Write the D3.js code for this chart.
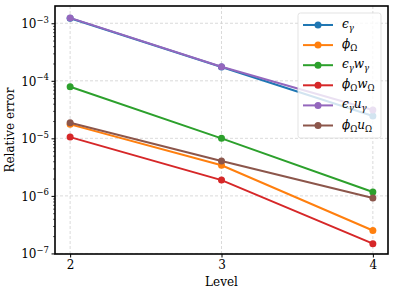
<!DOCTYPE html>
<html>
<head>
<meta charset="utf-8">
<script src="https://cdn.jsdelivr.net/npm/d3@7"></script>
<style>
  body { margin: 0; background: #fff; }
  .grid line { stroke: #d0d0d0; stroke-dasharray: 3,2; stroke-width: 0.8; }
</style>
</head>
<body>
<div id="chart"></div>
<script>
const levels = [2, 3, 4];
const seriesNames = ['eg', 'phiO', 'egwg', 'phiOwO', 'egug', 'phiOuO'];
const seriesColors = ['#1f77b4', '#ff7f0e', '#2ca02c', '#d62728', '#9467bd', '#8c564b'];
// legend label pieces: [text, italic?, subscript?]
const seriesLabels = [
  [['ϵ', 1, 0], ['γ', 1, 1]],
  [['ϕ', 1, 0], ['Ω', 0, 1]],
  [['ϵ', 1, 0], ['γ', 1, 1], ['w', 1, 0], ['γ', 1, 1]],
  [['ϕ', 1, 0], ['Ω', 0, 1], ['w', 1, 0], ['Ω', 0, 1]],
  [['ϵ', 1, 0], ['γ', 1, 1], ['u', 1, 0], ['γ', 1, 1]],
  [['ϕ', 1, 0], ['Ω', 0, 1], ['u', 1, 0], ['Ω', 0, 1]]
];
const eg = [1.22e-3, 1.74e-4, 2.45e-5];
const phiO = [1.75e-5, 3.4e-6, 2.5e-7];
const egwg = [7.9e-5, 1.0e-5, 1.17e-6];
const phiOwO = [1.05e-5, 1.88e-6, 1.48e-7];
const egug = [1.24e-3, 1.76e-4, 3.1e-5];
const phiOuO = [1.86e-5, 4.05e-6, 9.2e-7];
const seriesValues = [eg, phiO, egwg, phiOwO, egug, phiOuO];
const yTickExp = [-7, -6, -5, -4, -3];

const W = 394, H = 296;
const margin = { top: 6, right: 6, bottom: 42, left: 55 };
const width = W - margin.left - margin.right;
const height = H - margin.top - margin.bottom;
const FONT = 'DejaVu Serif';

const svg = d3.select('#chart').append('svg')
  .attr('width', W).attr('height', H)
  .attr('font-family', FONT);
const g = svg.append('g')
  .attr('transform', 'translate(' + margin.left + ',' + margin.top + ')');

const xScale = d3.scaleLinear().domain([1.9, 4.1]).range([0, width]);
const yScale = d3.scaleLog().domain([Math.pow(10, -7.01), Math.pow(10, -2.70)]).range([height, 0]);

// grid
g.append('g').attr('class', 'grid')
  .selectAll('line').data(levels).enter().append('line')
  .attr('x1', d => xScale(d)).attr('x2', d => xScale(d))
  .attr('y1', 0).attr('y2', height);
g.append('g').attr('class', 'grid')
  .selectAll('line').data(yTickExp).enter().append('line')
  .attr('x1', 0).attr('x2', width)
  .attr('y1', d => yScale(Math.pow(10, d))).attr('y2', d => yScale(Math.pow(10, d)));

// axes
const xAxis = g.append('g')
  .attr('transform', 'translate(0,' + height + ')')
  .call(d3.axisBottom(xScale).tickValues(levels).tickSize(3.5).tickPadding(3).tickFormat(d3.format('d')));
xAxis.attr('font-family', FONT).attr('font-size', 12);
xAxis.select('.domain').remove();
xAxis.selectAll('text').attr('fill', '#000');

const minor = [];
for (let e = -8; e <= -3; e++) for (let k = 2; k <= 9; k++) {
  const v = k * Math.pow(10, e);
  if (v >= yScale.domain()[0] && v <= yScale.domain()[1]) minor.push(v);
}
const yMinor = g.append('g')
  .call(d3.axisLeft(yScale).tickValues(minor).tickSize(2).tickFormat(''));
yMinor.select('.domain').remove();
yMinor.selectAll('line').attr('stroke-width', 0.6);

const yAxis = g.append('g')
  .call(d3.axisLeft(yScale).tickValues(yTickExp.map(e => Math.pow(10, e))).tickSize(3.5).tickPadding(3).tickFormat(''));
yAxis.attr('font-family', FONT).attr('font-size', 12);
yAxis.select('.domain').remove();
yAxis.selectAll('.tick').each(function (d) {
  const t = d3.select(this).append('text')
    .attr('x', -6).attr('dy', '0.36em').attr('text-anchor', 'end')
    .attr('fill', '#000');
  t.append('tspan').text('10');
  t.append('tspan').attr('font-size', 8.5).attr('dy', '-0.65em').text('−' + (-Math.log10(d)).toFixed(0));
});

// lines
const line = d3.line().x((d, i) => xScale(levels[i])).y(d => yScale(d));
seriesValues.forEach((vals, s) => {
  const sg = g.append('g');
  sg.append('path')
    .attr('d', line(vals))
    .attr('fill', 'none')
    .attr('stroke', seriesColors[s])
    .attr('stroke-width', 2);
  sg.selectAll('circle').data(vals).enter().append('circle')
    .attr('cx', (d, i) => xScale(levels[i]))
    .attr('cy', d => yScale(d))
    .attr('r', 3.5)
    .attr('fill', seriesColors[s]);
});

// frame
g.append('rect').attr('x', 0).attr('y', 0).attr('width', width).attr('height', height)
  .attr('fill', 'none').attr('stroke', '#000').attr('stroke-width', 1.6);

// legend
const lg = svg.append('g').attr('transform', 'translate(298,13)');
lg.append('rect').attr('width', 83).attr('height', 125).attr('rx', 2.5)
  .attr('fill', 'rgba(255,255,255,0.8)').attr('stroke', '#dcdcdc').attr('stroke-width', 0.8);
seriesNames.forEach((n, i) => {
  const yy = 12 + i * 20.1;
  lg.append('line').attr('x1', 5).attr('x2', 35).attr('y1', yy).attr('y2', yy)
    .attr('stroke', seriesColors[i]).attr('stroke-width', 2);
  lg.append('circle').attr('cx', 20).attr('cy', yy).attr('r', 3.5).attr('fill', seriesColors[i]);
  const t = lg.append('text').attr('x', 44).attr('y', yy + 3).attr('font-size', 12)
    .attr('fill', '#000');
  let sub = false;
  seriesLabels[i].forEach(p => {
    const ts = t.append('tspan').text(p[0]).attr('font-style', p[1] ? 'italic' : 'normal')
      .attr('fill', '#000');
    if (p[2]) { ts.attr('font-size', 8.5).attr('dy', sub ? 0 : 3); sub = true; }
    else if (sub) { ts.attr('dy', -3); sub = false; }
  });
});

// axis labels
svg.append('text').attr('x', margin.left + xScale(3)).attr('y', 286)
  .attr('text-anchor', 'middle').attr('font-size', 12).attr('fill', '#000').text('Level');
svg.append('text').attr('transform', 'translate(14,' + (margin.top + height / 2) + ') rotate(-90)')
  .attr('text-anchor', 'middle').attr('font-size', 12).attr('fill', '#000').text('Relative error');
</script>
</body>
</html>
